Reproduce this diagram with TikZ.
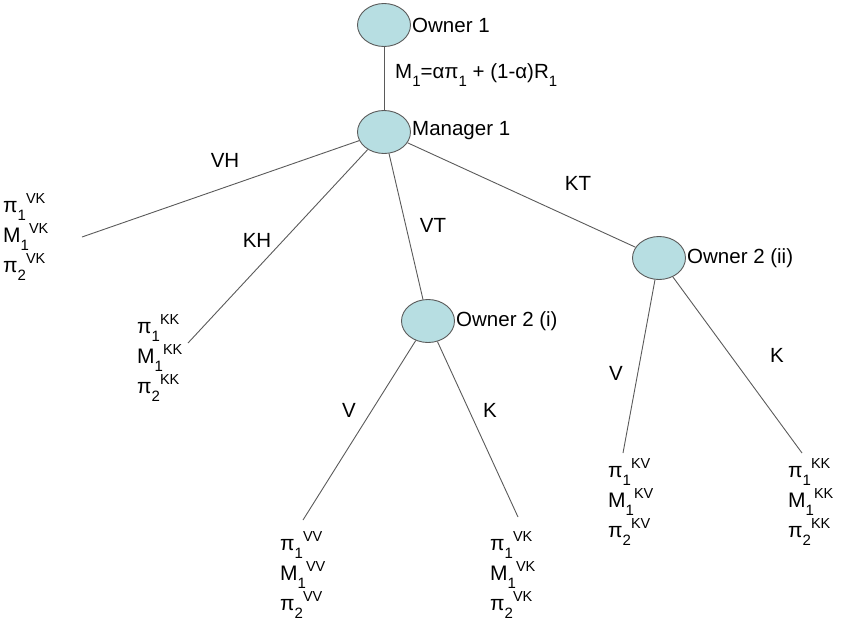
\documentclass[tikz,border=0pt]{standalone}
\usepackage{fontspec}
\setmainfont{Liberation Sans}
\usetikzlibrary{shapes.geometric}
\definecolor{bubble}{RGB}{183,222,226}
\definecolor{edgegray}{RGB}{90,90,90}
\newcommand\lo[1]{\raisebox{-0.35em}{\fontsize{15}{15}\selectfont #1}}
\newcommand\hi[1]{\raisebox{0.42em}{\fontsize{14.5}{14.5}\selectfont #1}}
\begin{document}
\begin{tikzpicture}[x=1pt,y=-1pt,
  bub/.style={ellipse,draw=edgegray,fill=bubble,line width=0.9pt,minimum width=53pt,minimum height=43pt,inner sep=0pt},
  lab/.style={inner sep=0pt,font=\fontsize{20.5}{24}\selectfont},
  leaf/.style={inner sep=0pt,anchor=west,align=left,font=\fontsize{21}{30}\selectfont},
  conn/.style={draw=edgegray,line width=0.9pt}]
\useasboundingbox (0,0) rectangle (842,621);
% ellipses
\node[bub] (o1) at (384,25) {};
\node[bub] (m1) at (384,132) {};
\node[bub] (o2a) at (428,321) {};
\node[bub] (o2b) at (659,258) {};
% names
\node[lab,anchor=west] (to1) at (412,25) {Owner 1};
\node[lab,anchor=west] (tm1) at (412,131) {Manager 1};
\node[lab,anchor=west] (to2a) at (456,321) {Owner 2 (i)};
\node[lab,anchor=west] (to2b) at (687,258) {Owner 2 (ii)};
% free ends
\coordinate (evh) at (82,237);
\coordinate (ekh) at (188,343);
\coordinate (eav) at (303,520);
\coordinate (eak) at (518,517);
\coordinate (ebv) at (623,453);
\coordinate (ebk) at (802,453);
% connectors
\draw[conn] (o1) -- (m1);
\draw[conn] (m1) -- (evh);
\draw[conn] (m1) -- (ekh);
\draw[conn] (m1) -- (o2a);
\draw[conn] (m1) -- (o2b);
\draw[conn] (o2a) -- (eav);
\draw[conn] (o2a) -- (eak);
\draw[conn] (o2b) -- (ebv);
\draw[conn] (o2b) -- (ebk);
% edge labels
\node[lab,anchor=west] (fm) at (395,75) {M\lo{1}=απ\lo{1} + (1-α)R\lo{1}};
\node[lab] (lvh) at (225,160) {VH};
\node[lab] (lkh) at (257,240) {KH};
\node[lab] (lvt) at (433,225) {VT};
\node[lab] (lkt) at (578,183) {KT};
\node[lab] (lav) at (349,410) {V};
\node[lab] (lak) at (490,410) {K};
\node[lab] (lbv) at (616,373) {V};
\node[lab] (lbk) at (777,355) {K};
% leaves
\node[leaf] (pvh) at (3,237) {π\lo{1}\hi{VK}\\M\lo{1}\hi{VK}\\π\lo{2}\hi{VK}};
\node[leaf] (pkh) at (137,358) {π\lo{1}\hi{KK}\\M\lo{1}\hi{KK}\\π\lo{2}\hi{KK}};
\node[leaf] (pvv) at (280,575) {π\lo{1}\hi{VV}\\M\lo{1}\hi{VV}\\π\lo{2}\hi{VV}};
\node[leaf] (pvk) at (490,575) {π\lo{1}\hi{VK}\\M\lo{1}\hi{VK}\\π\lo{2}\hi{VK}};
\node[leaf] (pkv) at (608,502) {π\lo{1}\hi{KV}\\M\lo{1}\hi{KV}\\π\lo{2}\hi{KV}};
\node[leaf] (pkk) at (788,502) {π\lo{1}\hi{KK}\\M\lo{1}\hi{KK}\\π\lo{2}\hi{KK}};
\end{tikzpicture}
\end{document}
